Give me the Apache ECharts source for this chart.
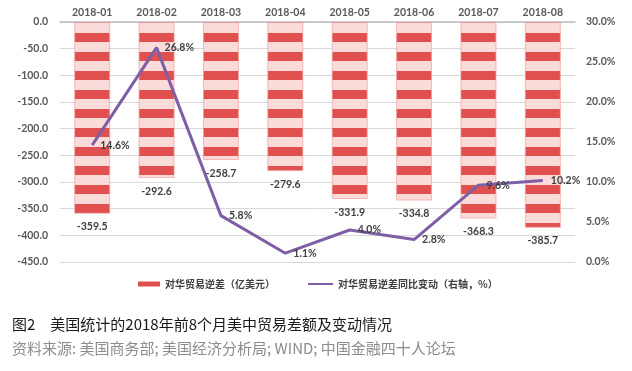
<!DOCTYPE html>
<html>
<head>
<meta charset="utf-8">
<script src="https://cdn.jsdelivr.net/npm/echarts@6/dist/echarts.min.js"></script>
<style>
html,body{margin:0;padding:0;background:#fff;}
#c{width:632px;height:371px;}
</style>
</head>
<body>
<div id="c"></div>
<script>
const categories = ['2018-01','2018-02','2018-03','2018-04','2018-05','2018-06','2018-07','2018-08'];
const deficit = [-359.5, -292.6, -258.7, -279.6, -331.9, -334.8, -368.3, -385.7];
const yoyChange = [14.6, 26.8, 5.8, 1.1, 4.0, 2.8, 9.6, 10.2];
const leftTicks = { min: -450, max: 0, interval: 50 };
const rightTicks = { min: 0, max: 30, interval: 5 };
const barName = '对华贸易逆差（亿美元）';
const lineName = '对华贸易逆差同比变动（右轴，%）';
const captionTitle = '图2　美国统计的2018年前8个月美中贸易差额及变动情况';
const captionSource = '资料来源: 美国商务部; 美国经济分析局; WIND; 中国金融四十人论坛';

// striped pattern for bars
const pc = document.createElement('canvas');
pc.width = 4; pc.height = 19;
const pctx = pc.getContext('2d');
pctx.fillStyle = '#e0504f';
pctx.fillRect(0, 0, 4, 19);
pctx.fillStyle = '#fbdada';
pctx.fillRect(0, 4, 4, 10);

const font = 'Lato, "Noto Sans CJK SC", sans-serif';
const legendText = { fontSize: 10, color: '#404040', fontWeight: 'bold', fontFamily: '"Noto Sans CJK SC", sans-serif' };
const chart = echarts.init(document.getElementById('c'), null, { renderer: 'canvas' });
chart.setOption({
  animation: false,
  backgroundColor: '#fff',
  grid: { left: 60, right: 57, top: 22, bottom: 109 },
  legend: [
    { data: [{ name: barName, icon: 'rect', itemStyle: { color: '#e0504f', borderWidth: 0 } }],
      left: 133, top: 274, itemWidth: 22, itemHeight: 5, itemGap: 4, textStyle: legendText },
    { data: [{ name: lineName, icon: 'rect', itemStyle: { color: '#7e5fa6', borderWidth: 0 } }],
      left: 303, top: 274, itemWidth: 25, itemHeight: 2, textStyle: legendText }
  ],
  xAxis: {
    type: 'category', data: categories, position: 'top',
    axisLine: { show: true, lineStyle: { color: '#bfbfbf', width: 1.5 } },
    axisTick: { show: false },
    axisLabel: { margin: 4, fontSize: 10.5, color: '#595959', fontWeight: 'bold', fontFamily: font }
  },
  yAxis: [
    { type: 'value', min: leftTicks.min, max: leftTicks.max, interval: leftTicks.interval,
      axisLine: { show: false }, axisTick: { show: false },
      axisLabel: { margin: 12, fontSize: 10.5, color: '#595959', fontWeight: 'bold', fontFamily: font,
        formatter: v => v.toFixed(1) },
      splitLine: { lineStyle: { color: '#d9d9d9', width: 1 } } },
    { type: 'value', min: rightTicks.min, max: rightTicks.max, interval: rightTicks.interval,
      position: 'right',
      axisLine: { show: false }, axisTick: { show: false },
      axisLabel: { margin: 11, fontSize: 10.5, color: '#595959', fontWeight: 'bold', fontFamily: font,
        formatter: v => v.toFixed(1) + '%' },
      splitLine: { show: false } }
  ],
  series: [
    { name: barName, type: 'bar', data: deficit, barWidth: 36, yAxisIndex: 0,
      itemStyle: { color: { image: pc, repeat: 'repeat' }, borderColor: 'rgba(240,160,160,0.7)', borderWidth: 1 },
      label: { show: true, position: 'bottom', distance: 8, fontSize: 10.5, color: '#404040',
        fontWeight: 'bold', fontFamily: font, formatter: p => p.value.toFixed(1) } },
    { name: lineName, type: 'line', data: yoyChange, yAxisIndex: 1,
      symbol: 'circle', symbolSize: 0.1, showSymbol: true,
      lineStyle: { color: '#7e5fa6', width: 3 }, itemStyle: { color: '#7e5fa6' },
      labelLayout: { hideOverlap: false },
      label: { show: true, position: 'right', distance: 8, fontSize: 10.5, color: '#404040',
        fontWeight: 'bold', fontFamily: font, formatter: p => p.value.toFixed(1) + '%' } }
  ],
  graphic: [
    { type: 'text', left: 12, top: 317, style: { text: captionTitle,
      fill: '#1a1a1a', font: '15px "Noto Sans CJK SC", sans-serif' } },
    { type: 'text', left: 12, top: 341, style: { text: captionSource,
      fill: '#8c8c8c', font: '15px "Noto Sans CJK SC", sans-serif' } }
  ]
});
</script>
</body>
</html>
